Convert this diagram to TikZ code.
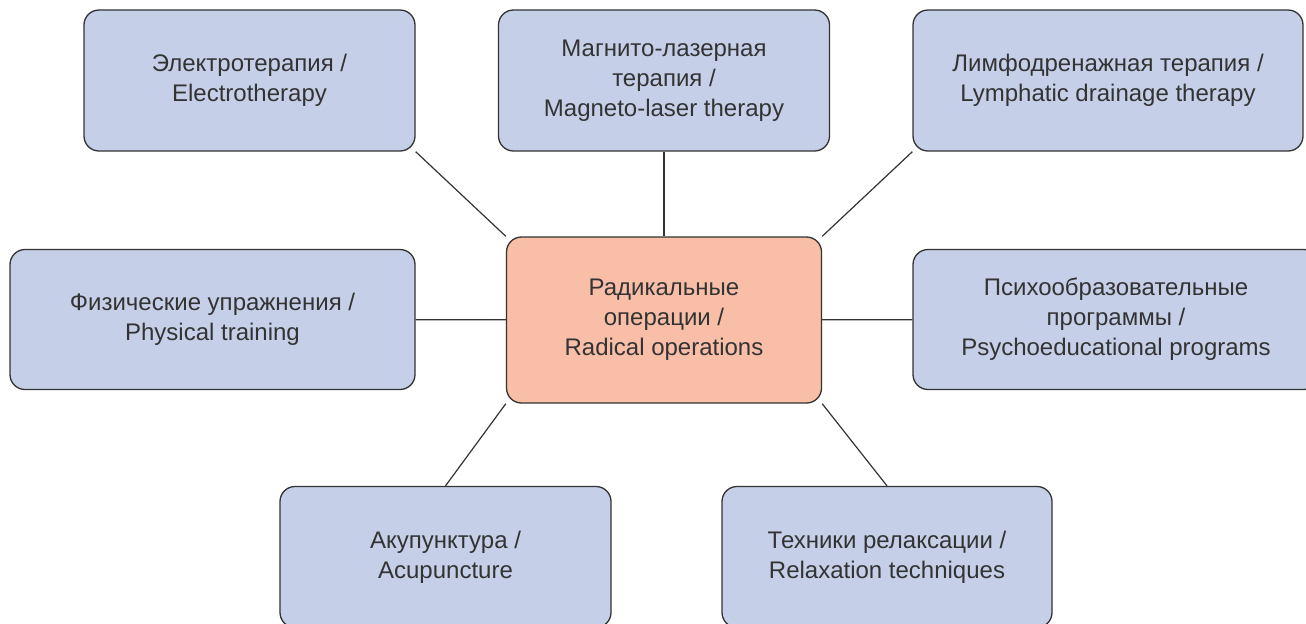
\documentclass[tikz,border=0pt]{standalone}
\usepackage{fontspec}
\setmainfont{Liberation Sans}
\usepackage{tikz}
\usetikzlibrary{backgrounds}

\definecolor{boxblue}{RGB}{197,208,232}
\definecolor{boxsalmon}{RGB}{249,190,167}
\definecolor{inkgray}{RGB}{51,51,51}

\tikzset{
	therapy/.style={shape=rectangle, draw=inkgray, fill=boxblue, rounded corners=7.5pt,
		line width=0.65pt, align=center, text=inkgray, inner sep=0pt,
		font=\fontsize{12}{15}\selectfont},
	core/.style={therapy, fill=boxsalmon},
	link/.style={draw=inkgray, line width=0.6pt}
}

\begin{document}
\begin{tikzpicture}[x=0.5pt,y=-0.5pt]
	\clip (0,0) rectangle (1306,623);
	\path (249.5,80.5) node (electro) [therapy, minimum width=165.5pt, minimum height=70.5pt] {Электротерапия /\\Electrotherapy}
		  (664,80.5) node (magneto) [therapy, minimum width=165.5pt, minimum height=70.5pt] {Магнито-лазерная\\терапия /\\Magneto-laser therapy}
		  (1108,80.5) node (lymph) [therapy, minimum width=195pt, minimum height=70.5pt] {Лимфодренажная терапия /\\Lymphatic drainage therapy}
		  (212.5,319.5) node (physical) [therapy, minimum width=202.5pt, minimum height=70pt] {Физические упражнения /\\Physical training}
		  (664,320) node (radical) [core, minimum width=157.5pt, minimum height=83pt] {Радикальные\\операции /\\Radical operations}
		  (1116,319.5) node (psycho) [therapy, minimum width=203pt, minimum height=70pt] {Психообразовательные\\программы /\\Psychoeducational programs}
		  (445.5,557) node (acup) [therapy, minimum width=165.5pt, minimum height=70.5pt] {Акупунктура /\\Acupuncture}
		  (887,557) node (relax) [therapy, minimum width=165pt, minimum height=70.5pt] {Техники релаксации /\\Relaxation techniques};
	\begin{scope}[on background layer]
		\draw[link] (electro.south east) -- (radical.north west);
		\draw[link] (magneto) -- (radical);
		\draw[link] (lymph.south west) -- (radical.north east);
		\draw[link] (physical) -- (radical);
		\draw[link] (psycho) -- (radical);
		\draw[link] (radical.south west) -- (acup.north);
		\draw[link] (radical.south east) -- (relax.north);
	\end{scope}
\end{tikzpicture}
\end{document}
